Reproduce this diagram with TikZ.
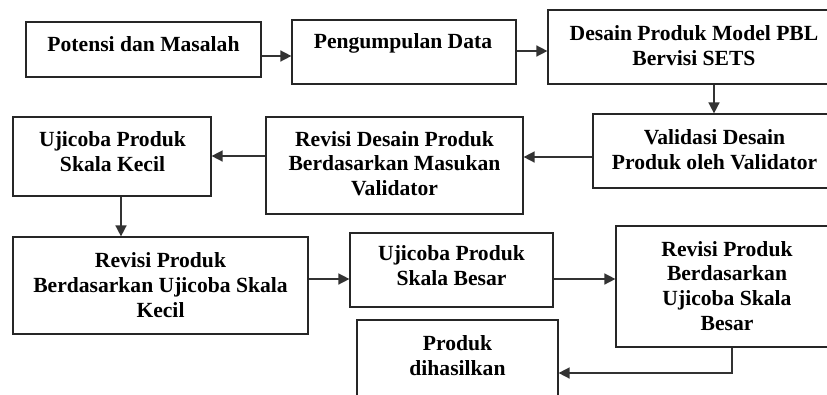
\documentclass[tikz,border=0pt]{standalone}
\usepackage{fontspec}
\setmainfont{Liberation Serif}
\usetikzlibrary{arrows.meta}
\begin{document}
\begin{tikzpicture}[x=1pt,y=-1pt,
  box/.style={draw=black!85,line width=1.2pt,rectangle,inner sep=0pt},
  txt/.style={align=center,inner sep=0pt,font=\bfseries\fontsize{21.6}{24.8}\selectfont},
  arr/.style={draw=black!80,line width=1.5pt,-{Triangle[length=11pt,width=11pt]}}]
\useasboundingbox (0,0) rectangle (827,394);
\clip (0,0) rectangle (827,394);
\fill[white] (0,0) rectangle (827,394);
% boxes
\node[box,minimum width=235,minimum height=55] (b1) at (143.5,49.5) {};
\node[box,minimum width=224,minimum height=64] (b2) at (404,52) {};
\node[box,minimum width=292,minimum height=74] (b3) at (694,47) {};
\node[box,minimum width=243,minimum height=74] (b4) at (714.5,151) {};
\node[box,minimum width=257,minimum height=97] (b5) at (394.5,165.5) {};
\node[box,minimum width=198,minimum height=79] (b6) at (112,156.5) {};
\node[box,minimum width=295,minimum height=97] (b7) at (160.5,285.5) {};
\node[box,minimum width=203,minimum height=74] (b8) at (451.5,270) {};
\node[box,minimum width=222,minimum height=121] (b9) at (727,286.5) {};
\node[box,minimum width=201,minimum height=100] (b10) at (457.5,370) {};
% texts
\node[txt] (t1) at (143.5,44) {Potensi dan Masalah};
\node[txt] (t2) at (403,43) {Pengumpulan Data};
\node[txt] (t3) at (694,45.5) {Desain Produk Model PBL\\Bervisi SETS};
\node[txt] (t4) at (714.5,149.5) {Validasi Desain\\Produk oleh Validator};
\node[txt] (t5) at (394.5,163.5) {Revisi Desain Produk\\Berdasarkan Masukan\\Validator};
\node[txt] (t6) at (112.5,151.5) {Ujicoba Produk\\Skala Kecil};
\node[txt] (t7) at (160.5,285) {Revisi Produk\\Berdasarkan Ujicoba Skala\\Kecil};
\node[txt] (t8) at (451.5,266) {Ujicoba Produk\\Skala Besar};
\node[txt] (t9) at (727,286) {Revisi Produk\\Berdasarkan\\Ujicoba Skala\\Besar};
\node[txt] (t10) at (457.5,356) {Produk\\dihasilkan};
% connectors
\coordinate (c9) at (732,373);
\draw[arr] (b1.east|-0,56) -- (b2.west|-0,56);
\draw[arr] (b2.east|-0,51) -- (b3.west|-0,51);
\draw[arr] (b3.south-|714,0) -- (b4.north-|714,0);
\draw[arr] (b4.west|-0,157) -- (b5.east|-0,157);
\draw[arr] (b5.west|-0,156) -- (b6.east|-0,156);
\draw[arr] (b6.south-|121,0) -- (b7.north-|121,0);
\draw[arr] (b7.east|-0,279) -- (b8.west|-0,279);
\draw[arr] (b8.east|-0,279) -- (b9.west|-0,279);
\draw[arr] (b9.south-|c9) -- (c9) -- (b10.east|-c9);
\end{tikzpicture}
\end{document}
